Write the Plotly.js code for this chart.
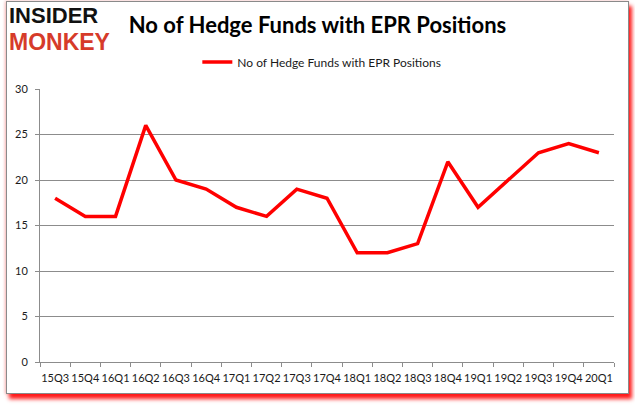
<!DOCTYPE html>
<html>
<head>
<meta charset="utf-8">
<script src="https://cdn.plot.ly/plotly-3.0.1.min.js"></script>
<style>
  html, body { margin: 0; padding: 0; background: #fff; }
  #wrap { position: relative; width: 635px; height: 405px; overflow: hidden; }
  /* chart frame with the red drop shadow */
  #frame {
    position: absolute; left: 6px; top: 1px; width: 621px; height: 391px;
    border: 1px solid #8a8a8a; background: #fff;
    box-shadow: 3px 5px 4px #ff1a1a, -1px 0 3px #f4b8b8;
  }
  #chart { position: absolute; left: 0; top: 0; width: 635px; height: 405px; }
</style>
</head>
<body>
<div id="wrap">
  <div id="frame"></div>
  <div id="chart"></div>
</div>
<script>
// ─── data ───────────────────────────────────────────────
var quarters = ['15Q3', '15Q4', '16Q1', '16Q2', '16Q3', '16Q4', '17Q1', '17Q2', '17Q3', '17Q4',
                '18Q1', '18Q2', '18Q3', '18Q4', '19Q1', '19Q2', '19Q3', '19Q4', '20Q1'];
var fundCounts = [18, 16, 16, 26, 20, 19, 17, 16, 19, 18, 12, 12, 13, 22, 17, 20, 23, 24, 23];
var seriesName = 'No of Hedge Funds with EPR Positions';
var yTicks = [0, 5, 10, 15, 20, 25, 30];

var gridGray = '#8c8c8c';
var labelFont = { family: 'Lato, "Liberation Sans", sans-serif', size: 11, color: '#1a1a1a' };

var traces = [{
  type: 'scatter',
  mode: 'lines',
  name: seriesName,
  x: quarters,
  y: fundCounts,
  line: { color: '#ff0000', width: 3.5 },
  hoverinfo: 'x+y'
}];

var layout = {
  width: 635,
  height: 405,
  paper_bgcolor: 'rgba(0,0,0,0)',
  plot_bgcolor: 'rgba(0,0,0,0)',
  margin: { l: 40, r: 21, t: 89, b: 43 },
  title: {
    text: '<b>' + seriesName + '</b>',
    font: { family: 'Lato, "Liberation Sans", sans-serif', size: 22, color: '#000' },
    x: 0.5, xanchor: 'center',
    y: 1 - 25 / 405, yanchor: 'middle', yref: 'container'
  },
  showlegend: true,
  legend: {
    orientation: 'h',
    x: 0.491, xanchor: 'center',
    y: 1.099, yanchor: 'middle',
    font: { family: labelFont.family, size: 12, color: '#1a1a1a' },
    bgcolor: 'rgba(0,0,0,0)',
    itemwidth: 30
  },
  xaxis: {
    type: 'category',
    range: [-0.5, quarters.length - 0.5],
    tickson: 'boundaries',
    ticks: 'outside', ticklen: 4, tickcolor: gridGray,
    ticklabelstandoff: 6,
    showline: true, linecolor: gridGray, linewidth: 1,
    showgrid: false,
    tickfont: labelFont,
    tickangle: 0,
    fixedrange: true
  },
  yaxis: {
    range: [0, 30],
    tickvals: yTicks,
    ticks: 'outside', ticklen: 4, tickcolor: gridGray,
    ticklabelstandoff: 5,
    showline: true, linecolor: gridGray, linewidth: 1,
    showgrid: true, gridcolor: gridGray, gridwidth: 1,
    zeroline: false,
    tickfont: labelFont,
    fixedrange: true
  },
  annotations: [
    {
      text: '<b>INSIDER</b>', xref: 'paper', yref: 'paper',
      x: -0.0557, xanchor: 'left', y: (362 - 15) / 273, yanchor: 'middle',
      showarrow: false, borderpad: 0,
      font: { family: '"Liberation Sans", Arial, sans-serif', size: 22, color: '#111' }
    },
    {
      text: '<b>MONKEY</b>', xref: 'paper', yref: 'paper',
      x: -0.0557, xanchor: 'left', y: (362 - 42) / 273, yanchor: 'middle',
      showarrow: false, borderpad: 0,
      font: { family: '"Liberation Sans", Arial, sans-serif', size: 23, color: '#d63b2a' }
    }
  ]
};

Plotly.newPlot('chart', traces, layout, { displayModeBar: false, staticPlot: true });
</script>
</body>
</html>
